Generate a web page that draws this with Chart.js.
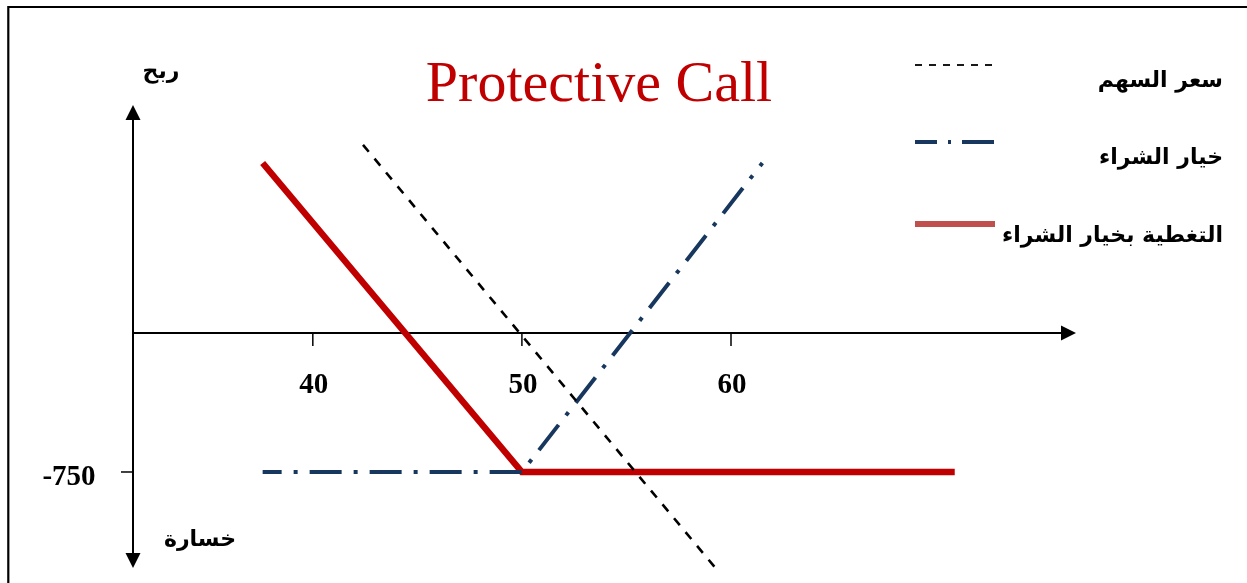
<!DOCTYPE html>
<html>
<head>
<meta charset="utf-8">
<script src="https://cdn.jsdelivr.net/npm/chart.js@4.4.1/dist/chart.umd.min.js"></script>
<style>
  html, body { margin: 0; padding: 0; background: #fff; }
  #wrap { width: 1247px; height: 583px; position: relative; }
</style>
</head>
<body>
<div id="wrap"><canvas id="payoff" width="1247" height="583"></canvas></div>
<script>
// Payoff lines (price at expiry -> profit/loss)
const stockX = [42.4, 59.3];
const stockY = [1015, -1274];

const callX = [37.6, 50, 61.5];
const callY = [-750, -750, 917];

const coverX = [37.6, 50, 70.7];
const coverY = [917, -750, -750];

// Axis marks
const xTicks = [40, 50, 60];
const yTicks = [-750];

const seriesNames = ["سعر السهم", "خيار الشراء", "التغطية بخيار الشراء"];
const chartTitle = "Protective Call";
const profitLabel = "ربح";
const lossLabel = "خسارة";

const pts = (xs, ys) => xs.map((v, i) => ({ x: v, y: ys[i] }));

const ARABIC = "bold 22px 'DejaVu Sans', Arial, sans-serif";
const SERIF_B = "bold 29px 'Liberation Serif', 'Times New Roman', serif";

// Frame, arrowed axes, tick marks and their labels
const axesPlugin = {
  id: "axes",
  beforeDatasetsDraw(chart) {
    const { ctx, scales: { x, y } } = chart;
    const y0 = y.getPixelForValue(0);
    const xl = x.left, xr = x.right, yt = y.top, yb = y.bottom;
    ctx.save();
    ctx.strokeStyle = "#000";
    ctx.fillStyle = "#000";

    // outer frame (top and left edges)
    ctx.lineWidth = 2.2;
    ctx.beginPath();
    ctx.moveTo(8.3, 583);
    ctx.lineTo(8.3, 7);
    ctx.lineTo(1247, 7);
    ctx.stroke();

    // horizontal axis
    ctx.lineWidth = 2;
    ctx.beginPath();
    ctx.moveTo(xl, y0);
    ctx.lineTo(xr - 12, y0);
    ctx.stroke();
    ctx.beginPath();
    ctx.moveTo(xr, y0);
    ctx.lineTo(xr - 15, y0 - 7.5);
    ctx.lineTo(xr - 15, y0 + 7.5);
    ctx.closePath();
    ctx.fill();

    // vertical axis with arrows on both ends
    ctx.beginPath();
    ctx.moveTo(xl, yt + 12);
    ctx.lineTo(xl, yb - 12);
    ctx.stroke();
    ctx.beginPath();
    ctx.moveTo(xl, yt);
    ctx.lineTo(xl - 7.5, yt + 15);
    ctx.lineTo(xl + 7.5, yt + 15);
    ctx.closePath();
    ctx.fill();
    ctx.beginPath();
    ctx.moveTo(xl, yb);
    ctx.lineTo(xl - 7.5, yb - 15);
    ctx.lineTo(xl + 7.5, yb - 15);
    ctx.closePath();
    ctx.fill();

    // ticks
    ctx.lineWidth = 1.5;
    ctx.font = SERIF_B;
    ctx.textAlign = "center";
    ctx.textBaseline = "middle";
    xTicks.forEach(t => {
      const px = x.getPixelForValue(t);
      ctx.beginPath();
      ctx.moveTo(px, y0);
      ctx.lineTo(px, y0 + 13);
      ctx.stroke();
      ctx.fillText(String(t), px + 1, y0 + 53);
    });
    yTicks.forEach(t => {
      const py = y.getPixelForValue(t);
      ctx.beginPath();
      ctx.moveTo(xl - 12, py);
      ctx.lineTo(xl, py);
      ctx.stroke();
      ctx.fillText(String(t), 69, py + 6);
    });

    // profit / loss captions
    ctx.font = ARABIC;
    ctx.fillText(profitLabel, 161, 72);
    ctx.fillText(lossLabel, 200, 540);
    ctx.restore();
  }
};

// Title and the right-hand key
const keyPlugin = {
  id: "key",
  afterDraw(chart, args, opts) {
    const { ctx } = chart;
    ctx.save();
    ctx.fillStyle = "#c00000";
    ctx.font = "58px 'Liberation Serif', 'Times New Roman', serif";
    ctx.textAlign = "center";
    ctx.textBaseline = "alphabetic";
    ctx.fillText(chartTitle, 599, 101);

    const lineY = [65, 142, 224];
    const textY = [81, 158, 236];
    chart.data.datasets.forEach((ds, i) => {
      ctx.strokeStyle = opts.colors[i];
      ctx.lineWidth = opts.widths[i];
      ctx.setLineDash(opts.dashes[i]);
      ctx.beginPath();
      ctx.moveTo(915, lineY[i]);
      ctx.lineTo(995, lineY[i]);
      ctx.stroke();
      ctx.setLineDash([]);
      ctx.fillStyle = "#000";
      ctx.font = ARABIC;
      ctx.textAlign = "right";
      ctx.textBaseline = "middle";
      ctx.fillText(seriesNames[i], 1223, textY[i]);
    });
    ctx.restore();
  }
};

new Chart(document.getElementById("payoff"), {
  type: "scatter",
  data: {
    datasets: [
      {
        label: seriesNames[0],
        data: pts(stockX, stockY),
        showLine: true,
        borderColor: "#000",
        borderWidth: 2.6,
        borderDash: [9, 9],
        pointRadius: 0,
        clip: false
      },
      {
        label: seriesNames[1],
        data: pts(callX, callY),
        showLine: true,
        borderColor: "#17375e",
        borderWidth: 4,
        borderDash: [32, 12, 4, 12],
        borderDashOffset: 13,
        pointRadius: 0
      },
      {
        label: seriesNames[2],
        data: pts(coverX, coverY),
        showLine: true,
        borderColor: "#c00000",
        borderWidth: 6.5,
        pointRadius: 0
      }
    ]
  },
  options: {
    responsive: false,
    animation: false,
    layout: { padding: { left: 133, right: 171, top: 105, bottom: 15 } },
    scales: {
      x: { type: "linear", min: 31.4, max: 76.5, display: false },
      y: { type: "linear", min: -1268, max: 1230, display: false }
    },
    plugins: {
      legend: { display: false },
      tooltip: { enabled: false },
      key: {
        colors: ["#000", "#17375e", "#c0504d"],
        widths: [1.8, 4, 6],
        dashes: [[7, 7], [22, 11, 3, 11, 32, 10], []]
      }
    }
  },
  plugins: [axesPlugin, keyPlugin]
});
</script>
</body>
</html>
